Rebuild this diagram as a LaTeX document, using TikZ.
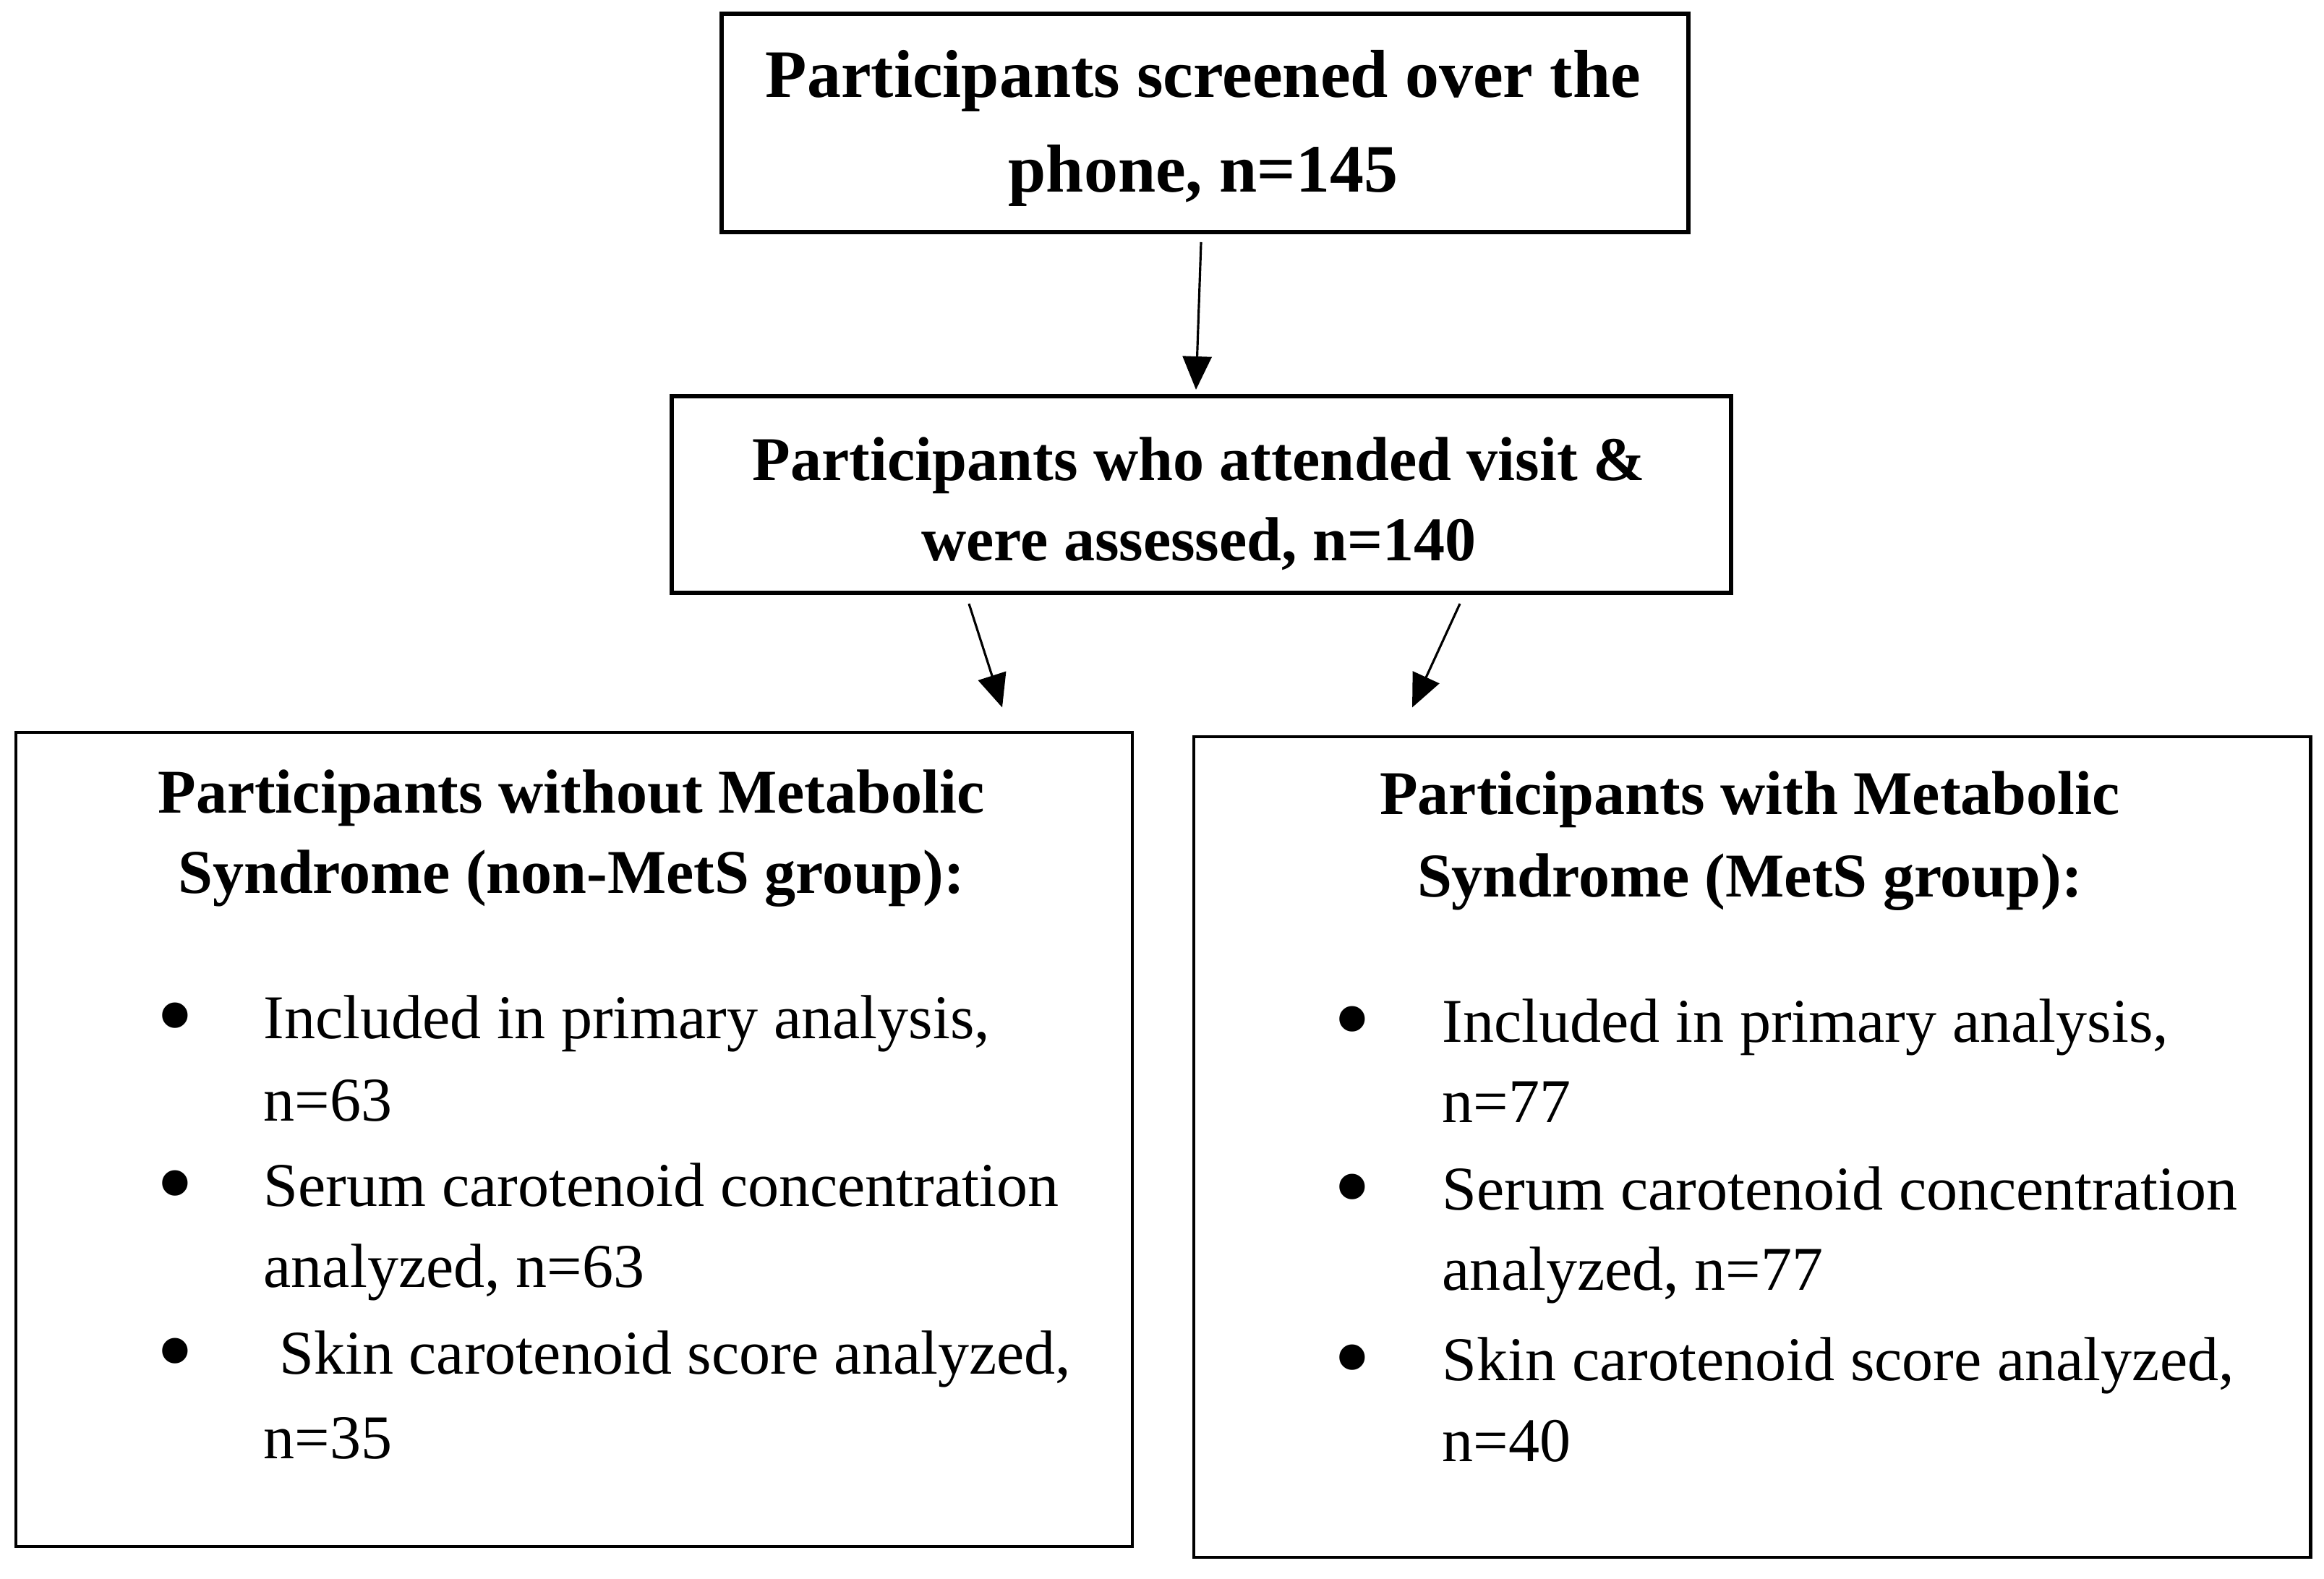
\documentclass[tikz,border=0pt]{standalone}
\usepackage{fontspec}
\setmainfont{Liberation Serif}
\usetikzlibrary{arrows.meta,calc}
\tikzset{
  box/.style={draw, rectangle, inner sep=0pt},
  thickbox/.style={box, line width=1.7pt},
  thinbox/.style={box, line width=1.4pt},
  arr/.style={-{Triangle[length=0.46cm,width=0.40cm]}, line width=0.9pt},
  topline/.style={font=\fontsize{26.7}{37}\selectfont\bfseries, anchor=base, inner sep=0pt},
  hd/.style={font=\fontsize{24.5}{31}\selectfont\bfseries, anchor=base, inner sep=0pt},
  bd/.style={font=\fontsize{24.5}{33}\selectfont, anchor=base west, inner sep=0pt},
  bul/.style={font=\fontsize{42}{44}\selectfont, anchor=base, inner sep=0pt, yshift=-0.17cm},
}
\begin{document}
\begin{tikzpicture}
\useasboundingbox (0,0) rectangle (32.14,-21.83);
% boxes
\node[thickbox, minimum width=13.37cm, minimum height=3.02cm] (top) at (16.665,-1.70) {};
\node[thickbox, minimum width=14.65cm, minimum height=2.72cm] (mid) at (16.615,-6.84) {};
\node[thinbox, minimum width=15.44cm, minimum height=11.26cm] (left) at (7.94,-15.76) {};
\node[thinbox, minimum width=15.44cm, minimum height=11.35cm] (right) at (24.23,-15.865) {};
% top text
\node[topline] (t1) at (16.64,-1.35) {Participants screened over the};
\node[topline] (t2) at (16.64,-2.66) {phone, n=145};
% middle text
\node[hd] (m1) at (16.58,-6.64) {Participants who attended visit \&};
\node[hd] (m2) at (16.58,-7.75) {were assessed, n=140};
% left box
\node[hd] (lh1) at (7.90,-11.24) {Participants without Metabolic};
\node[hd] (lh2) at (7.90,-12.35) {Syndrome (non-MetS group):};
\node[bul] (lb1) at (2.42,-14.36) {\textbullet};
\node[bd] (l1a) at (3.64,-14.36) {Included in primary analysis,};
\node[bd] (l1b) at (3.64,-15.50) {n=63};
\node[bul] (lb2) at (2.42,-16.68) {\textbullet};
\node[bd] (l2a) at (3.64,-16.68) {Serum carotenoid concentration};
\node[bd] (l2b) at (3.64,-17.80) {analyzed, n=63};
\node[bul] (lb3) at (2.42,-19.00) {\textbullet};
\node[bd] (l3a) at (3.64,-19.00) {\ Skin carotenoid score analyzed,};
\node[bd] (l3b) at (3.64,-20.17) {n=35};
% right box
\node[hd] (rh1) at (24.20,-11.26) {Participants with Metabolic};
\node[hd] (rh2) at (24.20,-12.40) {Syndrome (MetS group):};
\node[bul] (rb1) at (18.70,-14.41) {\textbullet};
\node[bd] (r1a) at (19.94,-14.41) {Included in primary analysis,};
\node[bd] (r1b) at (19.94,-15.52) {n=77};
\node[bul] (rb2) at (18.70,-16.73) {\textbullet};
\node[bd] (r2a) at (19.94,-16.73) {Serum carotenoid concentration};
\node[bd] (r2b) at (19.94,-17.84) {analyzed, n=77};
\node[bul] (rb3) at (18.70,-19.09) {\textbullet};
\node[bd] (r3a) at (19.94,-19.09) {Skin carotenoid score analyzed,};
\node[bd] (r3b) at (19.94,-20.21) {n=40};
% arrows
\draw[arr] ($(top.south)+(-0.055,-0.11)$) -- ($(mid.north)+(-0.075,0.06)$);
\draw[arr] ($(mid.south)+(-3.215,-0.12)$) -- ($(left.north)+(5.92,0.32)$);
\draw[arr] ($(mid.south)+(3.575,-0.12)$) -- ($(right.north)+(-4.70,0.38)$);
\end{tikzpicture}
\end{document}
